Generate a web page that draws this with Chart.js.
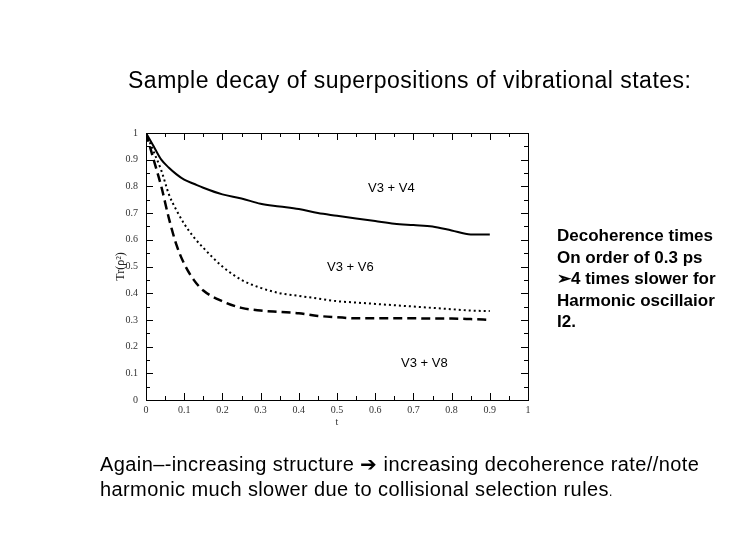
<!DOCTYPE html>
<html>
<head>
<meta charset="utf-8">
<script src="https://cdn.jsdelivr.net/npm/chart.js@4/dist/chart.umd.min.js"></script>
<style>
  body { margin: 0; background: #fff; }
  #wrap { position: relative; width: 756px; height: 540px; overflow: hidden; }
  #decayChart { position: absolute; left: 0; top: 0; }
  .txt { position: absolute; font-family: "Liberation Sans", Arial, sans-serif; color: #000; white-space: nowrap; }
  #title { left: 128px; top: 67px; font-size: 23px; line-height: 26px; letter-spacing: 0.5px; }
  #note { left: 557px; top: 225px; font-size: 17px; line-height: 21.6px; font-weight: bold; }
  #bottom { left: 100px; top: 452px; font-size: 20px; line-height: 25px; letter-spacing: 0.4px; }
  .lbl { font-size: 13px; line-height: 13px; }
</style>
</head>
<body>
<div id="wrap">
  <canvas id="decayChart" width="756" height="540"></canvas>
  <div class="txt" id="title">Sample decay of superpositions of vibrational states:</div>
  <div class="txt lbl" style="left:368px; top:181px;">V3 + V4</div>
  <div class="txt lbl" style="left:327px; top:260px;">V3 + V6</div>
  <div class="txt lbl" style="left:401px; top:356px;">V3 + V8</div>
  <div class="txt" id="note">Decoherence times<br>On order of 0.3 ps<br>&#10146;4 times slower for<br>Harmonic oscillaior<br>I2.</div>
  <div class="txt" id="bottom">Again&ndash;-increasing structure &#10132; increasing decoherence rate//note<br>harmonic much slower due to collisional selection rules<span style="font-size:12px">.</span></div>
</div>
<script>
// time axis (ps) and Tr(rho^2)
const times = [0, 0.02, 0.04, 0.06, 0.08, 0.1, 0.125, 0.15, 0.2, 0.25, 0.3, 0.35, 0.4, 0.45, 0.5, 0.55, 0.6, 0.65, 0.7, 0.75, 0.8, 0.85, 0.9];
const v4Values = [1, 0.95, 0.90, 0.87, 0.845, 0.825, 0.81, 0.795, 0.77, 0.755, 0.735, 0.725, 0.715, 0.70, 0.69, 0.68, 0.67, 0.66, 0.655, 0.65, 0.635, 0.62, 0.62];
const v6Values = [1, 0.93, 0.86, 0.77, 0.71, 0.66, 0.61, 0.57, 0.50, 0.45, 0.42, 0.40, 0.39, 0.38, 0.37, 0.365, 0.36, 0.355, 0.35, 0.345, 0.34, 0.335, 0.333];
const v8Values = [1, 0.90, 0.80, 0.68, 0.58, 0.51, 0.45, 0.41, 0.37, 0.345, 0.335, 0.33, 0.325, 0.315, 0.31, 0.306, 0.306, 0.306, 0.306, 0.305, 0.305, 0.303, 0.30];
const tickValues = [0, 0.05, 0.1, 0.15, 0.2, 0.25, 0.3, 0.35, 0.4, 0.45, 0.5, 0.55, 0.6, 0.65, 0.7, 0.75, 0.8, 0.85, 0.9, 0.95, 1];

function toPoints(values){
    return times.map((t, i) => ({x: t, y: values[i]}));
}

function fmtTick(v){
    if(v === 0) return "0";
    if(Math.abs(v - 1) < 1e-9) return "1";
    return v.toFixed(1);
}

// box around the plot with inward tick marks on all four sides
const framePlugin = {
    id: "frame",
    afterDraw(chart){
        const ctx = chart.ctx;
        const a = chart.chartArea;
        const xs = chart.scales.x;
        const ys = chart.scales.y;
        ctx.save();
        ctx.strokeStyle = "#000";
        ctx.lineWidth = 1;
        ctx.strokeRect(a.left + 0.5, a.top + 0.5, a.right - a.left, a.bottom - a.top);
        ctx.beginPath();
        tickValues.forEach((v, i) => {
            const len = i % 2 === 0 ? 7 : 4;
            const px = Math.round(xs.getPixelForValue(v)) + 0.5;
            ctx.moveTo(px, a.bottom); ctx.lineTo(px, a.bottom - len);
            ctx.moveTo(px, a.top); ctx.lineTo(px, a.top + len);
            const py = Math.round(ys.getPixelForValue(v)) + 0.5;
            ctx.moveTo(a.left, py); ctx.lineTo(a.left + len, py);
            ctx.moveTo(a.right, py); ctx.lineTo(a.right - len, py);
        });
        ctx.stroke();
        ctx.restore();
    }
};

const tickFont = {family: "'Liberation Serif', 'DejaVu Serif', serif", size: 10};

new Chart(document.getElementById("decayChart"), {
    type: "line",
    data: {
        datasets: [
            {label: "V3 + V4", data: toPoints(v4Values), borderColor: "#000", borderWidth: 2, pointRadius: 0, cubicInterpolationMode: "monotone"},
            {label: "V3 + V6", data: toPoints(v6Values), borderColor: "#000", borderWidth: 2, borderDash: [2, 3], pointRadius: 0, cubicInterpolationMode: "monotone"},
            {label: "V3 + V8", data: toPoints(v8Values), borderColor: "#000", borderWidth: 2.5, borderDash: [9, 5], pointRadius: 0, cubicInterpolationMode: "monotone"}
        ]
    },
    options: {
        responsive: false,
        animation: false,
        layout: { padding: {left: 106, right: 228, top: 133, bottom: 112} },
        plugins: { legend: {display: false}, tooltip: {enabled: false} },
        scales: {
            x: {
                type: "linear", min: 0, max: 1,
                grid: {display: false, drawTicks: false}, border: {display: false},
                ticks: {stepSize: 0.1, padding: 4, color: "#333", font: tickFont, maxRotation: 0, callback: fmtTick},
                title: {display: true, text: "t", color: "#333", font: tickFont, padding: 0},
                afterFit(scale){ scale.height = 28; }
            },
            y: {
                min: 0, max: 1,
                grid: {display: false, drawTicks: false}, border: {display: false},
                ticks: {stepSize: 0.1, padding: 8, color: "#333", font: tickFont, callback: fmtTick},
                title: {display: true, text: "Tr(\u03c1\u00b2)", color: "#222", font: {family: tickFont.family, size: 12}, padding: {top: 8, bottom: 0}},
                afterFit(scale){ scale.width = 40; }
            }
        }
    },
    plugins: [framePlugin]
});
</script>
</body>
</html>
